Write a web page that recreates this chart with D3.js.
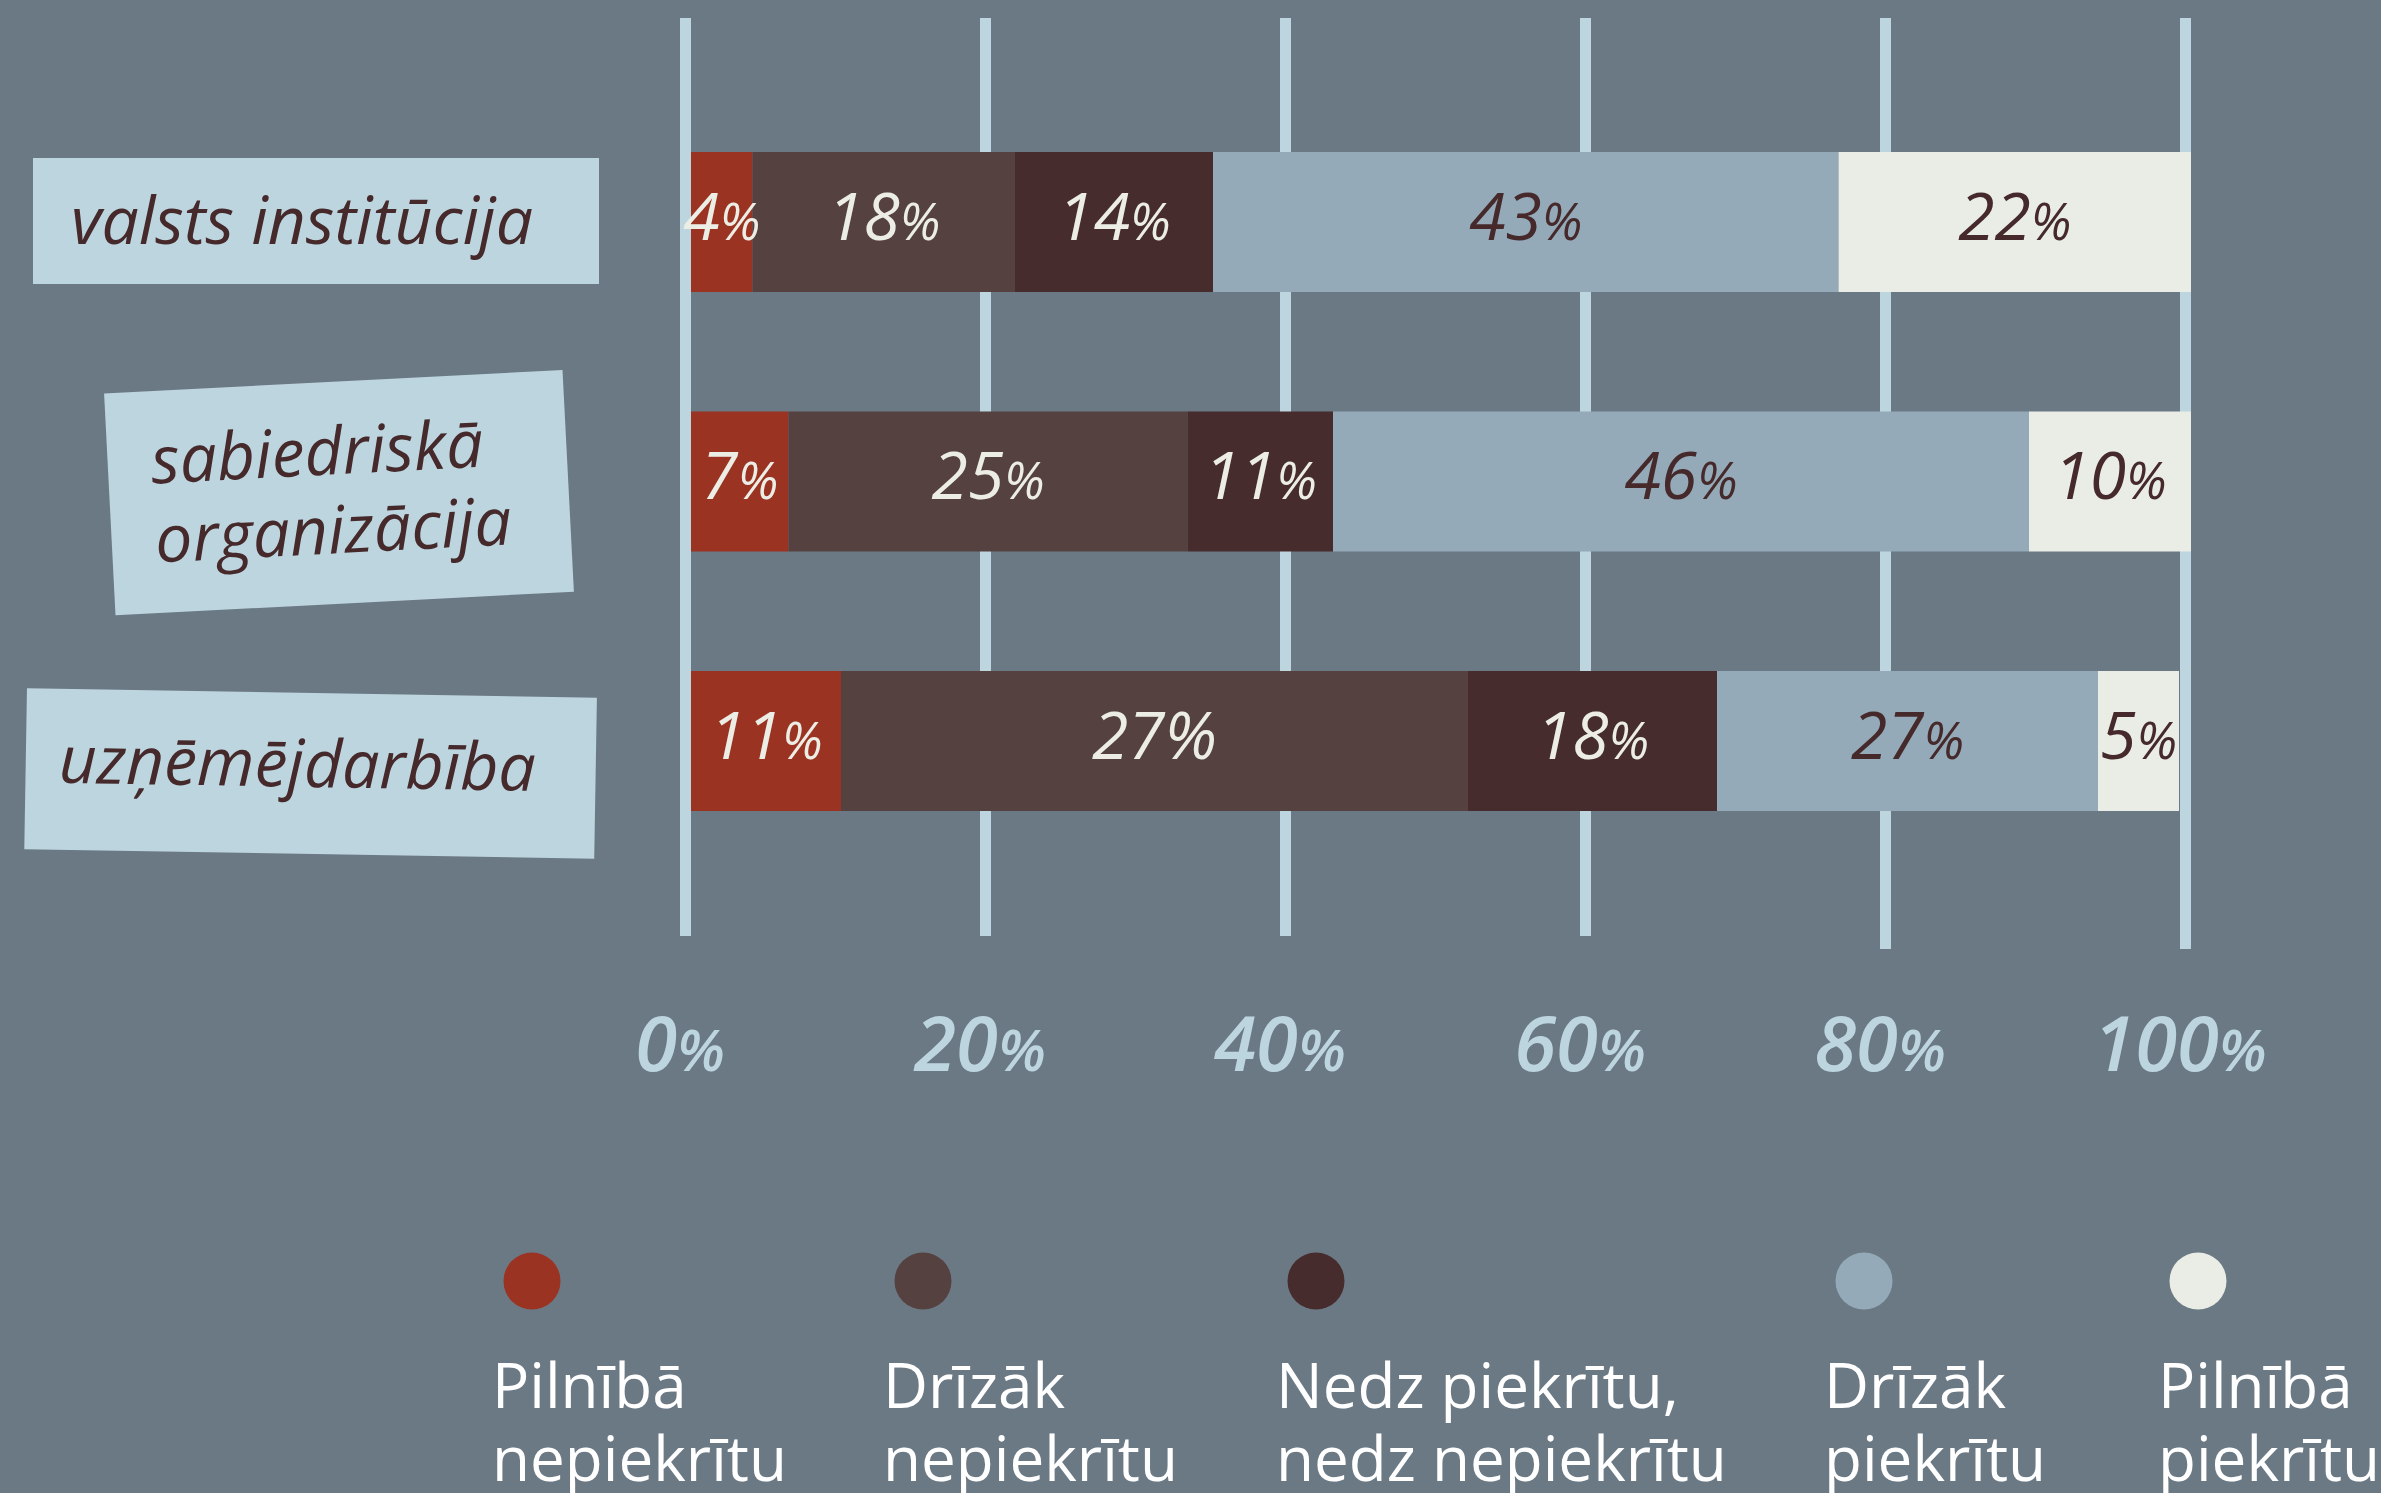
<!DOCTYPE html>
<html>
<head>
<meta charset="utf-8">
<script src="https://cdn.jsdelivr.net/npm/d3@7"></script>
<style>
  html, body { margin: 0; padding: 0; background: #6b7985; }
  svg { display: block; font-family: "Open Sans", "Noto Sans", sans-serif; }
</style>
</head>
<body>
<svg id="chart" width="2381" height="1493"></svg>
<script>
// --- data ---
const categories = ["valsts institūcija", "sabiedriskā organizācija", "uzņēmējdarbība"];
const categoryLines = [["valsts institūcija"], ["sabiedriskā", "organizācija"], ["uzņēmējdarbība"]];
const responses = ["Pilnībā nepiekrītu", "Drīzāk nepiekrītu", "Nedz piekrītu, nedz nepiekrītu", "Drīzāk piekrītu", "Pilnībā piekrītu"];
const legendLines = [["Pilnībā", "nepiekrītu"], ["Drīzāk", "nepiekrītu"], ["Nedz piekrītu,", "nedz nepiekrītu"], ["Drīzāk", "piekrītu"], ["Pilnībā", "piekrītu"]];

// printed percentages
const valsts = [4, 18, 14, 43, 22];
const sabiedriska = [7, 25, 11, 46, 10];
const uznemejdarbiba = [11, 27, 18, 27, 5];
// segment lengths as actually drawn (the third row's 27% block is drawn ~42% long)
const valstsDrawn = [4.1, 17.5, 13.2, 41.7, 23.5];
const sabiedriskaDrawn = [6.5, 26.6, 9.7, 46.4, 10.8];
const uznemejdarbibaDrawn = [10.0, 41.8, 16.6, 25.4, 5.4];

const ticks = [0, 20, 40, 60, 80, 100];

// --- styling / layout ---
const BG = "#6b7985";
const PALE = "#bdd5df";
const INK = "#45292b";
const colors = ["#9a3321", "#554140", "#472c2d", "#94aab8", "#eaede5"];
const labelFill = [ "#eceee6", "#eceee6", "#eceee6", INK, INK ];

const rows = categories.map((c, i) => ({
  name: c,
  labels: [valsts, sabiedriska, uznemejdarbiba][i],
  drawn: [valstsDrawn, sabiedriskaDrawn, uznemejdarbibaDrawn][i]
}));

// label boxes (centre, size, tilt) and the text inside them, local coords
const boxes = [
  { cx: 316, cy: 221, w: 566, h: 126, rot: 0, tx: -245, ty: [23] },
  { cx: 339, cy: 492.6, w: 459, h: 222, rot: -2.95, tx: -186, ty: [-18.5, 60.5] },
  { cx: 310.6, cy: 773.5, w: 570, h: 161, rot: 0.96, tx: -252, ty: [13.5] }
];
const legendX = [532, 923, 1316, 1864, 2198];

const svg = d3.select("#chart");
svg.append("rect").attr("width", 2381).attr("height", 1493).attr("fill", BG);

const x = d3.scaleLinear().domain([0, 100]).range([691, 2191]);
const y = d3.scaleBand().domain(categories).range([152, 811]).paddingInner(0.4605).paddingOuter(0);

// gridlines (behind bars)
svg.append("g").selectAll("rect").data(ticks).join("rect")
  .attr("x", d => x(d) - 11)
  .attr("width", 11)
  .attr("y", 18)
  .attr("height", d => (d >= 80 ? 949 : 936) - 18)
  .attr("fill", PALE);

// tick labels
const tickG = svg.append("g")
  .attr("font-style", "italic").attr("font-weight", 600)
  .attr("fill", PALE).attr("text-anchor", "middle");
ticks.forEach(t => {
  const tx = tickG.append("text").attr("x", x(t) - 11).attr("y", 1071).attr("font-size", 76);
  tx.append("tspan").text(t);
  tx.append("tspan").attr("font-size", 58).text("%");
});

// stacked bars
rows.forEach((r, ri) => {
  let acc = 0;
  const segs = r.drawn.map((v, k) => {
    const s = { k, x0: acc, x1: acc + v, label: r.labels[k] };
    acc += v;
    return s;
  });
  const g = svg.append("g").attr("transform", `translate(0,${y(r.name)})`);
  g.selectAll("rect").data(segs).join("rect")
    .attr("x", d => x(d.x0))
    .attr("width", d => x(d.x1) - x(d.x0))
    .attr("y", 0)
    .attr("height", y.bandwidth())
    .attr("fill", d => colors[d.k]);
  const t = g.selectAll("text").data(segs).join("text")
    .attr("x", d => (x(d.x0) + x(d.x1)) / 2)
    .attr("y", y.bandwidth() / 2 + 18)
    .attr("text-anchor", "middle")
    .attr("font-style", "italic")
    .attr("font-size", 66)
    .attr("fill", d => labelFill[d.k]);
  t.append("tspan").text(d => d.label);
  // the big brown block of the last row prints its % sign full size
  t.append("tspan").attr("font-size", d => (ri === 2 && d.k === 1) ? 66 : 51).text("%");
});

// category boxes
boxes.forEach((b, i) => {
  const g = svg.append("g").attr("transform", `translate(${b.cx},${b.cy}) rotate(${b.rot})`);
  g.append("rect")
    .attr("x", -b.w / 2).attr("y", -b.h / 2)
    .attr("width", b.w).attr("height", b.h)
    .attr("fill", PALE);
  g.selectAll("text").data(categoryLines[i]).join("text")
    .attr("x", b.tx)
    .attr("y", (d, j) => b.ty[j])
    .attr("font-style", "italic")
    .attr("font-size", 66)
    .attr("fill", INK)
    .text(d => d);
});

// legend
const leg = svg.append("g").selectAll("g").data(responses).join("g")
  .attr("transform", (d, i) => `translate(${legendX[i]},0)`);
leg.append("circle").attr("cx", 0).attr("cy", 1281).attr("r", 28.5)
  .attr("fill", (d, i) => colors[i]);
leg.each(function (d, i) {
  d3.select(this).selectAll("text").data(legendLines[i]).join("text")
    .attr("x", -40)
    .attr("y", (l, j) => 1408 + j * 73)
    .attr("font-size", 62)
    .attr("fill", "#ffffff")
    .text(l => l);
});
</script>
</body>
</html>
